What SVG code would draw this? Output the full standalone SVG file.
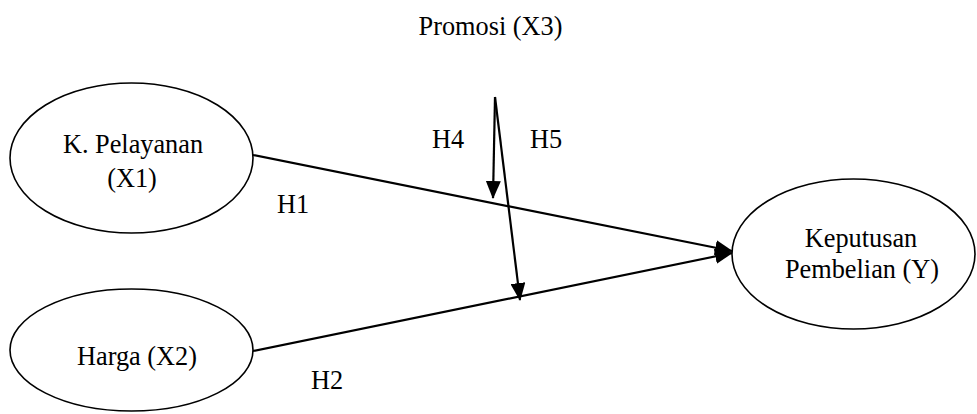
<svg xmlns="http://www.w3.org/2000/svg" width="977" height="414" viewBox="0 0 977 414">
<style>
.node ellipse{fill:#fff;stroke:#000;stroke-width:1.6}
text{font-family:"Liberation Serif","Times New Roman",serif;font-size:26.3px;fill:#000}
.c{text-anchor:middle}
.edge{stroke:#000;stroke-width:2.2;fill:none;marker-end:url(#arr)}
</style>
<defs>
<marker id="arr" markerUnits="userSpaceOnUse" markerWidth="18" markerHeight="15" refX="17" refY="7.5" orient="auto">
<path d="M0,0 L18,7.5 L0,15 z" fill="#000"/>
</marker>
</defs>
<rect width="977" height="414" fill="#fff"/>
<g id="connectors">
<line class="edge" x1="253" y1="155" x2="732" y2="251"/>
<line class="edge" x1="253" y1="351" x2="732" y2="253"/>
<line class="edge" x1="495" y1="97" x2="493" y2="198"/>
<line class="edge" x1="495" y1="97" x2="520" y2="300"/>
</g>
<g id="x1" class="node">
<ellipse cx="131.5" cy="158" rx="121.5" ry="75"/>
<text class="c" x="133" y="153">K. Pelayanan</text>
<text class="c" x="132" y="187">(X1)</text>
</g>
<g id="x2" class="node">
<ellipse cx="131.5" cy="350" rx="121.5" ry="61"/>
<text class="c" x="137" y="365">Harga (X2)</text>
</g>
<g id="y" class="node">
<ellipse cx="853.5" cy="254" rx="121.5" ry="75"/>
<text class="c" x="861" y="247">Keputusan</text>
<text class="c" x="862" y="278">Pembelian (Y)</text>
</g>
<g id="x3">
<text class="c" x="490.5" y="35">Promosi (X3)</text>
</g>
<g id="labels">
<text x="432" y="148">H4</text>
<text x="530" y="148">H5</text>
<text x="277" y="213">H1</text>
<text x="311" y="389">H2</text>
</g>
</svg>
